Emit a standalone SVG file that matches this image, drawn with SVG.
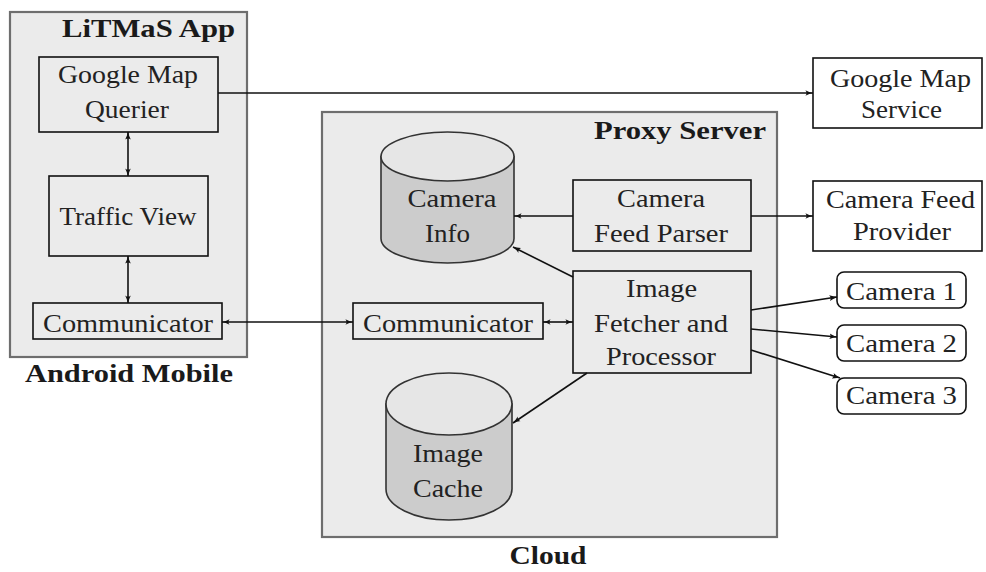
<svg xmlns="http://www.w3.org/2000/svg" width="986" height="572" viewBox="0 0 986 572" font-family="'Liberation Serif', serif">
<style>
text{font-size:26px;fill:#222;text-anchor:middle}
.b{font-weight:bold;fill:#1a1a1a}
.cont{fill:#ebebeb;stroke:#6e6e6e;stroke-width:2.2}
.box{fill:none;stroke:#111;stroke-width:1.6}
.wbox{fill:#fff;stroke:#111;stroke-width:1.6}
.cyl{fill:#cccccc;stroke:#333;stroke-width:1.6}
.cyltop{fill:#e6e6e6;stroke:#333;stroke-width:1.6}
.c{fill:none;stroke:#111;stroke-width:1.6}
</style>
<defs>
<marker id="ah" viewBox="0 0 10 8" refX="9.5" refY="4" markerWidth="8" markerHeight="6.4" markerUnits="userSpaceOnUse" orient="auto-start-reverse">
<path d="M0,0.5 Q5,3 10,4 Q5,5 0,7.5 Q3,4 0,0.5 Z" fill="#111"/>
</marker>
</defs>
<rect width="986" height="572" fill="#fff"/>

<g id="android">
<rect class="cont" x="10" y="12" width="237" height="345"/>
<text class="b" x="148.5" y="37" textLength="173" lengthAdjust="spacingAndGlyphs">LiTMaS App</text>
<text class="b" x="129" y="382" textLength="208" lengthAdjust="spacingAndGlyphs">Android Mobile</text>
</g>
<g id="cloud">
<rect class="cont" x="322" y="112" width="455" height="425"/>
<text class="b" x="680" y="139" textLength="172" lengthAdjust="spacingAndGlyphs">Proxy Server</text>
<text class="b" x="548" y="564" textLength="77" lengthAdjust="spacingAndGlyphs">Cloud</text>
</g>

<g id="gmquerier">
<rect class="box" x="39" y="57" width="179" height="75"/>
<text x="128" y="83" textLength="140" lengthAdjust="spacingAndGlyphs">Google Map</text>
<text x="127" y="118" textLength="84" lengthAdjust="spacingAndGlyphs">Querier</text>
</g>
<g id="trafficview">
<rect class="box" x="49" y="176" width="159" height="80"/>
<text x="128" y="225" textLength="137" lengthAdjust="spacingAndGlyphs">Traffic View</text>
</g>
<g id="commA">
<rect class="box" x="33" y="303" width="189" height="36"/>
<text x="128" y="332" textLength="170" lengthAdjust="spacingAndGlyphs">Communicator</text>
</g>

<g id="camerainfo">
<path class="cyl" d="M381,156.5 L381,238.5 A66.5,24.5 0 0 0 514,238.5 L514,156.5 Z"/>
<ellipse class="cyltop" cx="447.5" cy="156.5" rx="66.5" ry="24.5"/>
<text x="452" y="207" textLength="89" lengthAdjust="spacingAndGlyphs">Camera</text>
<text x="447.5" y="242" textLength="45" lengthAdjust="spacingAndGlyphs">Info</text>
</g>
<g id="parser">
<rect class="box" x="573" y="180" width="178" height="71"/>
<text x="661" y="207" textLength="88" lengthAdjust="spacingAndGlyphs">Camera</text>
<text x="661" y="242" textLength="134" lengthAdjust="spacingAndGlyphs">Feed Parser</text>
</g>
<g id="fetcher">
<rect class="box" x="573" y="271" width="178" height="102"/>
<text x="661.5" y="297" textLength="71" lengthAdjust="spacingAndGlyphs">Image</text>
<text x="661" y="332" textLength="134" lengthAdjust="spacingAndGlyphs">Fetcher and</text>
<text x="661" y="365" textLength="110" lengthAdjust="spacingAndGlyphs">Processor</text>
</g>
<g id="commC">
<rect class="box" x="353" y="303" width="190" height="36"/>
<text x="448" y="332" textLength="170" lengthAdjust="spacingAndGlyphs">Communicator</text>
</g>
<g id="imagecache">
<path class="cyl" d="M386,404 L386,489 A63,31 0 0 0 512,489 L512,404 Z"/>
<ellipse class="cyltop" cx="449" cy="404" rx="63" ry="31"/>
<text x="448" y="462" textLength="70" lengthAdjust="spacingAndGlyphs">Image</text>
<text x="448" y="497" textLength="70" lengthAdjust="spacingAndGlyphs">Cache</text>
</g>

<g id="gmservice">
<rect class="wbox" x="813" y="58" width="169" height="70"/>
<text x="900.5" y="87" textLength="141" lengthAdjust="spacingAndGlyphs">Google Map</text>
<text x="901.5" y="118" textLength="81" lengthAdjust="spacingAndGlyphs">Service</text>
</g>
<g id="feedprovider">
<rect class="wbox" x="813" y="181" width="169" height="70"/>
<text x="900.5" y="208" textLength="149" lengthAdjust="spacingAndGlyphs">Camera Feed</text>
<text x="902" y="240" textLength="98" lengthAdjust="spacingAndGlyphs">Provider</text>
</g>
<g id="camera1">
<rect class="wbox" x="837" y="272" width="129" height="36" rx="7"/>
<text x="901.5" y="300" textLength="111" lengthAdjust="spacingAndGlyphs">Camera 1</text>
</g>
<g id="camera2">
<rect class="wbox" x="837" y="325" width="129" height="36" rx="7"/>
<text x="901.5" y="352" textLength="111" lengthAdjust="spacingAndGlyphs">Camera 2</text>
</g>
<g id="camera3">
<rect class="wbox" x="837" y="378" width="129" height="36" rx="7"/>
<text x="901.5" y="404" textLength="111" lengthAdjust="spacingAndGlyphs">Camera 3</text>
</g>

<g id="connectors">
<line class="c" x1="218" y1="93" x2="813" y2="93" marker-end="url(#ah)"/>
<line class="c" x1="128" y1="132" x2="128" y2="176" marker-start="url(#ah)" marker-end="url(#ah)"/>
<line class="c" x1="128" y1="256" x2="128" y2="303" marker-start="url(#ah)" marker-end="url(#ah)"/>
<line class="c" x1="222" y1="322" x2="353" y2="322" marker-start="url(#ah)" marker-end="url(#ah)"/>
<line class="c" x1="543" y1="322" x2="573" y2="322" marker-start="url(#ah)" marker-end="url(#ah)"/>
<line class="c" x1="573" y1="216" x2="514" y2="216" marker-end="url(#ah)"/>
<line class="c" x1="751" y1="216" x2="813" y2="216" marker-end="url(#ah)"/>
<line class="c" x1="573" y1="277" x2="513" y2="247" marker-end="url(#ah)"/>
<line class="c" x1="587" y1="373" x2="513" y2="423" marker-end="url(#ah)"/>
<line class="c" x1="751" y1="310" x2="837" y2="297" marker-end="url(#ah)"/>
<line class="c" x1="751" y1="329" x2="837" y2="337" marker-end="url(#ah)"/>
<line class="c" x1="751" y1="350" x2="840" y2="378" marker-end="url(#ah)"/>
</g>
</svg>
